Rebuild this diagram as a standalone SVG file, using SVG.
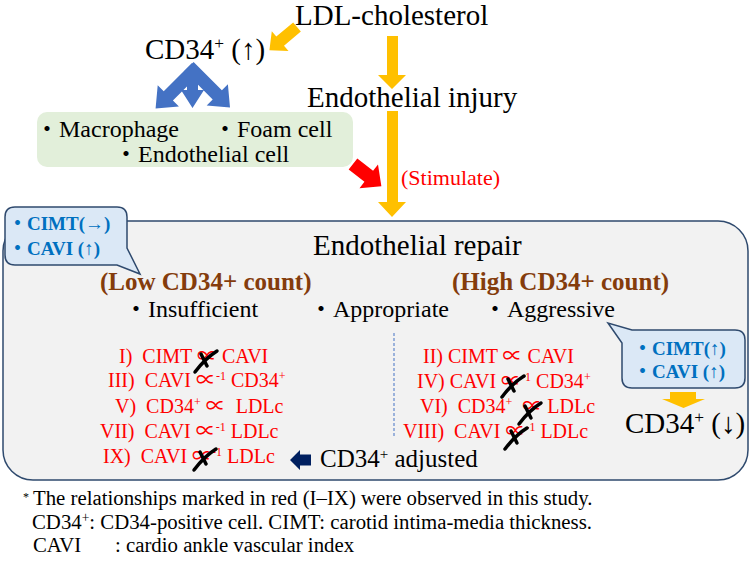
<svg xmlns="http://www.w3.org/2000/svg" width="752" height="563" viewBox="0 0 752 563">
<defs>
<style>
text{font-family:"Liberation Serif","Noto Sans CJK JP",serif;fill:#000}
.t29{font-size:29px}
.t24{font-size:24px}
.t25{font-size:25px}
.red{fill:#ff0000;font-size:20px}
.brown{fill:#843c0c;font-size:25px;font-weight:bold}
.blue{fill:#0070c0;font-size:19px;font-weight:bold}
.foot{font-size:20.8px}
.sup{baseline-shift:super;font-size:60%}
.yellow{fill:#ffc000}
.bluearr{fill:#4472c4}
.callout{fill:#dbe8f6;stroke:#2f4a6e;stroke-width:1.5}
.xm{fill:none;stroke:#000;stroke-width:3.5;stroke-linecap:round}
</style>
<g id="xmark">
<path class="xm" d="M2,22 C8,14 16,6 24,1"/>
<path class="xm" d="M8,4 C10,8 12,12 14,16"/>
</g>
</defs>
<rect width="752" height="563" fill="#ffffff"/>

<g id="repair">
<rect x="3" y="221" width="745" height="259" rx="30" ry="30" fill="#f2f2f2" stroke="#2f4a6e" stroke-width="1.5"/>
<text class="t29" x="313" y="255">Endothelial repair</text>
<text class="brown" x="100" y="290">(Low CD34+ count)</text>
<text class="brown" x="452" y="290">(High CD34+ count)</text>
<text class="t24" x="124" y="317">・Insufficient</text>
<text class="t24" x="309" y="317">・Appropriate</text>
<text class="t24" x="483" y="317">・Aggressive</text>
<line x1="394" y1="333" x2="394" y2="437" stroke="#4472c4" stroke-width="1" stroke-dasharray="3,2"/>
</g>

<g id="connectors">
<polygon class="yellow" points="387,36 398,36 398,75 406,75 392,89 378,75 387,75"/>
<polygon class="yellow" points="387,111 398,111 398,202 406,202 392,217 378,202 387,202"/>
<polygon class="yellow" transform="translate(297,27) rotate(140)" points="0,-6 22,-6 22,-13 36,0 22,13 22,6 0,6"/>
<polygon fill="#ff0000" transform="translate(353,164) rotate(38)" points="0,-7 20,-7 20,-15 36,0 20,15 20,7 0,7"/>
<polygon class="bluearr" transform="translate(196.6,67.6) rotate(135)" points="0,-6.5 40,-6.5 40,-15 58,0 40,15 40,6.5 0,6.5"/>
<polygon class="bluearr" transform="translate(189,66.5) rotate(45)" points="0,-6.5 40,-6.5 40,-15 58,0 40,15 40,6.5 0,6.5"/>
<polygon class="bluearr" points="187,70 198,70 198,90 204,90 192.5,108 181,90 187,90"/>
<polygon class="yellow" points="670,392 696,392 696,399 705,399 683.5,408 662,399 670,399"/>
<polygon fill="#002060" points="290,460 300,450 300,454.5 311,454.5 311,465.5 300,465.5 300,470"/>
</g>

<g id="ldl">
<text class="t29" x="295" y="25">LDL-cholesterol</text>
</g>

<g id="cd34-up">
<text class="t29" x="145" y="59">CD34<tspan class="sup">+</tspan> (↑)</text>
</g>

<g id="injury">
<text class="t29" x="307" y="107">Endothelial injury</text>
</g>

<g id="cells">
<rect x="37" y="112" width="316" height="55" rx="10" ry="10" fill="#e2efda"/>
<text class="t24" x="35" y="137">・Macrophage</text>
<text class="t24" x="213" y="137">・Foam cell</text>
<text class="t24" x="114" y="162">・Endothelial cell</text>
</g>

<g id="stimulate">
<text x="401" y="185" style="fill:#ff0000;font-size:22px">(Stimulate)</text>
</g>

<g id="callout-low">
<path class="callout" d="M15,207 H117 Q127,207 127,217 V248 L140,274 L117,265 H15 Q5,265 5,255 V217 Q5,207 15,207 Z"/>
<text class="blue" x="8" y="230">・CIMT(→)</text>
<text class="blue" x="8" y="255">・CAVI (↑)</text>
</g>

<g id="callout-high">
<path class="callout" d="M632,330 H735 Q745,330 745,340 V378 Q745,388 735,388 H632 Q622,388 622,378 V343 L608,323 Z"/>
<text class="blue" x="633" y="355">・CIMT(↑)</text>
<text class="blue" x="633" y="378">・CAVI (↑)</text>
</g>

<g id="cd34-down">
<text class="t29" x="625" y="433">CD34<tspan class="sup">+</tspan> (↓)</text>
</g>

<g id="list-low">
<text class="red" x="119" y="363">I)&#160; CIMT ∝ CAVI</text>
<text class="red" x="108" y="387">III)&#160; CAVI ∝<tspan class="sup">-1</tspan> CD34<tspan class="sup">+</tspan></text>
<text class="red" x="115" y="413">V)&#160; CD34<tspan class="sup">+</tspan> ∝&#160; LDLc</text>
<text class="red" x="100" y="438">VII)&#160; CAVI ∝<tspan class="sup">-1</tspan> LDLc</text>
<text class="red" x="103" y="463">IX)&#160; CAVI ∝<tspan class="sup">-1</tspan> LDLc</text>
<use href="#xmark" transform="translate(193,350)"/>
<use href="#xmark" transform="translate(192,448)"/>
</g>

<g id="list-high">
<text class="red" x="423" y="363">II) CIMT ∝ CAVI</text>
<text class="red" x="417" y="388">IV) CAVI ∝<tspan class="sup">-1</tspan> CD34<tspan class="sup">+</tspan></text>
<text class="red" x="420" y="413">VI)&#160; CD34<tspan class="sup">+</tspan>&#160; ∝ LDLc</text>
<text class="red" x="403" y="438">VIII)&#160; CAVI ∝<tspan class="sup">-1</tspan> LDLc</text>
<use href="#xmark" transform="translate(500,375)"/>
<use href="#xmark" transform="translate(517,402)"/>
<use href="#xmark" transform="translate(503,427)"/>
</g>

<g id="adjusted">
<text class="t25" x="320" y="467">CD34<tspan class="sup">+</tspan> adjusted</text>
</g>

<g id="footnote">
<text x="23" y="501" style="font-size:12px">*</text>
<text class="foot" x="33" y="505">The relationships marked in red (I–IX) were observed in this study.</text>
<text class="foot" x="32" y="529">CD34<tspan class="sup" style="font-size:65%">+</tspan>: CD34-positive cell. CIMT: carotid intima-media thickness.</text>
<text class="foot" x="33" y="552">CAVI<tspan x="115">: cardio ankle vascular index</tspan></text>
</g>
</svg>
